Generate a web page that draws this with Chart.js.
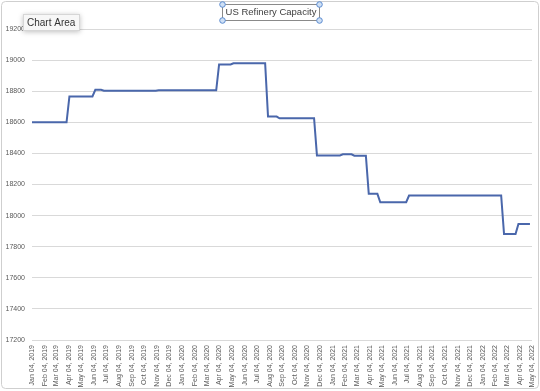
<!DOCTYPE html>
<html>
<head>
<meta charset="utf-8">
<script src="https://cdn.jsdelivr.net/npm/chart.js@4.4.0/dist/chart.umd.min.js"></script>
<style>
  html, body { margin: 0; padding: 0; background: #ffffff; }
  #wrap { position: relative; width: 540px; height: 391px; }
  canvas { display: block; }
</style>
</head>
<body>
<div id="wrap"><canvas id="c" width="540" height="391"></canvas></div>
<script>
// ---- data (weekly series, vertices where the value changes) ----
const chartTitle = 'US Refinery Capacity';
const tooltipText = 'Chart Area';
const weekDates = [
  '2019-01-04','2019-03-29','2019-04-05','2019-05-31','2019-06-07','2019-06-21','2019-06-28',
  '2019-11-01','2019-11-08','2020-03-27','2020-04-03','2020-05-01','2020-05-08','2020-07-24',
  '2020-07-31','2020-08-21','2020-08-28','2020-11-20','2020-11-27','2021-01-22','2021-01-29',
  '2021-02-19','2021-02-26','2021-03-26','2021-04-02','2021-04-23','2021-04-30','2021-07-02',
  '2021-07-09','2022-02-18','2022-02-25','2022-03-25','2022-04-01','2022-04-29'
];
const capacity = [
  18600, 18600, 18766, 18766, 18809, 18809, 18803,
  18803, 18806, 18806, 18972, 18972, 18980, 18980,
  18637, 18637, 18626, 18626, 18387, 18387, 18394,
  18394, 18385, 18385, 18140, 18140, 18086, 18086,
  18129, 18129, 17881, 17881, 17946, 17946
];
const axisStart = '2019-01-04';
const axisEnd = '2022-05-04';
const yMin = 17200, yMax = 19200, yStep = 200;
const monthNames = ['Jan','Feb','Mar','Apr','May','Jun','Jul','Aug','Sep','Oct','Nov','Dec'];

// ---- helpers ----
const DAY = 86400000;
function toDay(s) { const p = s.split('-').map(Number); return Date.UTC(p[0], p[1]-1, p[2]) / DAY; }
function fmt(d) {
  const dt = new Date(d * DAY);
  return monthNames[dt.getUTCMonth()] + ' ' + String(dt.getUTCDate()).padStart(2,'0') + ', ' + dt.getUTCFullYear();
}
const points = weekDates.map((d, i) => ({ x: toDay(d), y: capacity[i] }));
const xMin = toDay(axisStart), xMax = toDay(axisEnd);

const overlay = {
  id: 'overlay',
  afterDraw(chart) {
    const ctx = chart.ctx;
    ctx.save();
    // outer chart border
    ctx.strokeStyle = '#cfcfcf';
    ctx.lineWidth = 1;
    ctx.beginPath();
    if (ctx.roundRect) ctx.roundRect(1.5, 1.5, 537, 387, 4); else ctx.rect(1.5, 1.5, 537, 387);
    ctx.stroke();
    // title with selection frame
    ctx.font = '9.5px "Liberation Sans", Arial, sans-serif';
    ctx.fillStyle = '#404040';
    ctx.textAlign = 'center';
    ctx.textBaseline = 'middle';
    ctx.fillText(chartTitle, 271, 12.5);
    const bx = 222.5, by = 4.5, bw = 97, bh = 16;
    ctx.strokeStyle = '#8a8a8a';
    ctx.strokeRect(bx, by, bw, bh);
    [[bx, by], [bx + bw, by], [bx, by + bh], [bx + bw, by + bh]].forEach(([hx, hy]) => {
      ctx.beginPath();
      ctx.arc(hx, hy, 2.8, 0, Math.PI * 2);
      ctx.fillStyle = '#cfe0f5';
      ctx.fill();
      ctx.strokeStyle = '#5b8bd0';
      ctx.stroke();
    });
    // tooltip box
    ctx.shadowColor = 'rgba(0,0,0,0.25)';
    ctx.shadowBlur = 5;
    ctx.shadowOffsetY = 1;
    ctx.fillStyle = '#f7f7f7';
    ctx.fillRect(23, 14, 57, 17);
    ctx.shadowColor = 'transparent';
    ctx.strokeStyle = '#d6d6d6';
    ctx.strokeRect(23.5, 14.5, 56, 16);
    ctx.fillStyle = '#333333';
    ctx.font = '10px "Liberation Sans", Arial, sans-serif';
    ctx.textAlign = 'left';
    ctx.fillText(tooltipText, 27, 23);
    ctx.restore();
  }
};

new Chart(document.getElementById('c'), {
  type: 'line',
  data: {
    datasets: [{
      data: points,
      borderColor: '#4a67ab',
      borderWidth: 2,
      pointRadius: 0,
      tension: 0,
      fill: false
    }]
  },
  options: {
    responsive: false,
    animation: false,
    layout: { padding: { left: 0, right: 8, top: 29, bottom: 0 } },
    plugins: { legend: { display: false }, title: { display: false }, tooltip: { enabled: false } },
    scales: {
      x: {
        type: 'linear',
        min: xMin,
        max: xMax,
        afterBuildTicks(scale) {
          const t = [];
          const s = new Date(xMin * DAY);
          for (let m = 0; ; m++) {
            const v = Date.UTC(s.getUTCFullYear(), s.getUTCMonth() + m, 4) / DAY;
            if (v > xMax) break;
            t.push({ value: v });
          }
          scale.ticks = t;
        },
        afterFit(scale) { scale.height = 51; scale.paddingLeft = 0; scale.paddingRight = 0; },
        grid: { display: false, drawTicks: false },
        border: { display: false },
        ticks: {
          autoSkip: false,
          minRotation: 90,
          maxRotation: 90,
          padding: 5,
          color: '#595959',
          font: { size: 7, family: '"Liberation Sans", Arial, sans-serif' },
          callback: (v) => fmt(v)
        }
      },
      y: {
        min: yMin,
        max: yMax,
        afterFit(scale) { scale.width = 32; scale.paddingTop = 0; scale.paddingBottom = 0; },
        grid: { color: '#d9d9d9', lineWidth: 1, drawTicks: false },
        border: { display: false },
        ticks: {
          stepSize: yStep,
          padding: 7,
          color: '#595959',
          font: { size: 7, family: '"Liberation Sans", Arial, sans-serif' },
          callback: (v) => String(v)
        }
      }
    }
  },
  plugins: [overlay]
});
</script>
</body>
</html>
